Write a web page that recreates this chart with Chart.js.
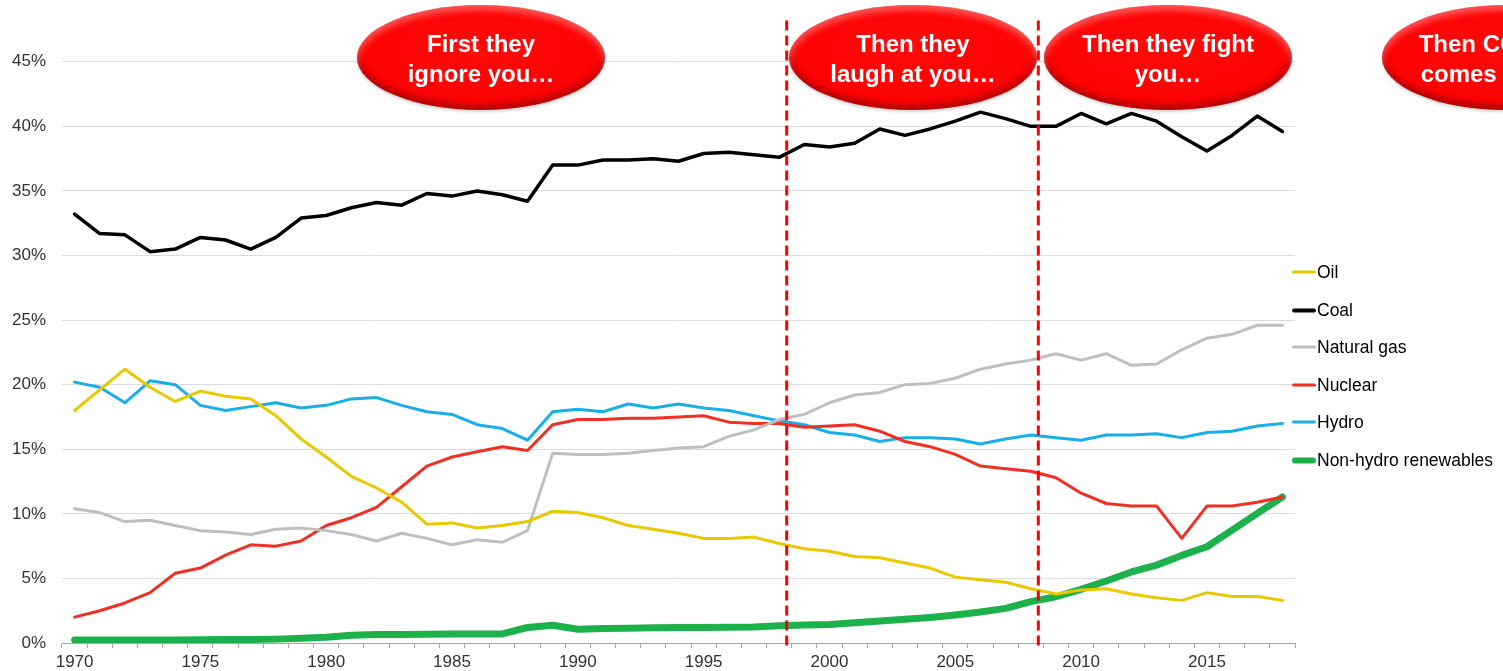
<!DOCTYPE html>
<html>
<head>
<meta charset="utf-8">
<script src="https://cdn.jsdelivr.net/npm/chart.js@4.4.1/dist/chart.umd.min.js"></script>
<style>
  html, body { margin: 0; padding: 0; background: #fff; overflow: hidden; }
  body { width: 1503px; height: 671px; position: relative; font-family: "Liberation Sans", Arial, sans-serif; }
  #wrap { position: absolute; left: 0; top: -29px; width: 1503px; height: 712px; }
  .bubble {
    position: absolute; top: 5px; width: 248px; height: 105px; border-radius: 50%;
    background: radial-gradient(ellipse 100% 100% at 50% 42%, #ff0a0a 0%, #ff0000 62%, #e80000 80%, #a80000 100%);
    box-shadow: inset 0 5px 7px rgba(255,255,255,0.35), inset 0 -5px 7px rgba(110,0,0,0.55), 0 2px 3px rgba(0,0,0,0.18);
    color: #fff; font-weight: bold; font-size: 24px; line-height: 30px; text-align: center;
    display: flex; align-items: center; justify-content: center; padding-top: 2px; box-sizing: border-box;
    white-space: nowrap;
  }
  #legend { position: absolute; left: 1292px; top: 0; font-size: 17.5px; color: #000; }
  .item { position: absolute; left: 0; display: flex; align-items: center; white-space: nowrap; transform: translateY(-50%); }
  .swatch { width: 24px; margin-right: 1px; border-radius: 3px; }
</style>
</head>
<body>
<div id="wrap"><canvas id="chart"></canvas></div>
<div id="legend"></div>

<script>
// years on the x axis
const years = [];
for (let y = 1970; y <= 2018; y++) years.push(y);

// share of world electricity generation, %
const oil = [18.0, 19.6, 21.2, 19.8, 18.7, 19.5, 19.1, 18.9, 17.6, 15.8,
  14.4, 12.9, 12.0, 10.9, 9.2, 9.3, 8.9, 9.1, 9.4, 10.2,
  10.1, 9.7, 9.1, 8.8, 8.5, 8.1, 8.1, 8.2, 7.7, 7.3,
  7.1, 6.7, 6.6, 6.2, 5.8, 5.1, 4.9, 4.7, 4.2, 3.8,
  4.1, 4.2, 3.8, 3.5, 3.3, 3.9, 3.6, 3.6, 3.3];
const coal = [33.2, 31.7, 31.6, 30.3, 30.5, 31.4, 31.2, 30.5, 31.4, 32.9,
  33.1, 33.7, 34.1, 33.9, 34.8, 34.6, 35.0, 34.7, 34.2, 37.0,
  37.0, 37.4, 37.4, 37.5, 37.3, 37.9, 38.0, 37.8, 37.6, 38.6,
  38.4, 38.7, 39.8, 39.3, 39.8, 40.4, 41.1, 40.6, 40.0, 40.0,
  41.0, 40.2, 41.0, 40.4, 39.2, 38.1, 39.3, 40.8, 39.6];
const naturalGas = [10.4, 10.1, 9.4, 9.5, 9.1, 8.7, 8.6, 8.4, 8.8, 8.9,
  8.7, 8.4, 7.9, 8.5, 8.1, 7.6, 8.0, 7.8, 8.7, 14.7,
  14.6, 14.6, 14.7, 14.9, 15.1, 15.2, 16.0, 16.5, 17.3, 17.7,
  18.6, 19.2, 19.4, 20.0, 20.1, 20.5, 21.2, 21.6, 21.9, 22.4,
  21.9, 22.4, 21.5, 21.6, 22.7, 23.6, 23.9, 24.6, 24.6];
const nuclear = [2.0, 2.5, 3.1, 3.9, 5.4, 5.8, 6.8, 7.6, 7.5, 7.9,
  9.1, 9.7, 10.5, 12.1, 13.7, 14.4, 14.8, 15.2, 14.9, 16.9,
  17.3, 17.3, 17.4, 17.4, 17.5, 17.6, 17.1, 17.0, 17.0, 16.7,
  16.8, 16.9, 16.4, 15.6, 15.2, 14.6, 13.7, 13.5, 13.3, 12.8,
  11.6, 10.8, 10.6, 10.6, 8.1, 10.6, 10.6, 10.9, 11.3];
const hydro = [20.2, 19.8, 18.6, 20.3, 20.0, 18.4, 18.0, 18.3, 18.6, 18.2,
  18.4, 18.9, 19.0, 18.4, 17.9, 17.7, 16.9, 16.6, 15.7, 17.9,
  18.1, 17.9, 18.5, 18.2, 18.5, 18.2, 18.0, 17.6, 17.2, 16.9,
  16.3, 16.1, 15.6, 15.9, 15.9, 15.8, 15.4, 15.8, 16.1, 15.9,
  15.7, 16.1, 16.1, 16.2, 15.9, 16.3, 16.4, 16.8, 17.0];
const nonHydro = [0.23, 0.23, 0.23, 0.23, 0.23, 0.25, 0.27, 0.27, 0.3, 0.36,
  0.44, 0.6, 0.65, 0.66, 0.68, 0.69, 0.7, 0.7, 1.2, 1.38,
  1.06, 1.12, 1.15, 1.18, 1.2, 1.2, 1.21, 1.24, 1.33, 1.39,
  1.44, 1.56, 1.7, 1.83, 1.98, 2.17, 2.4, 2.68, 3.2, 3.58,
  4.15, 4.8, 5.5, 6.03, 6.78, 7.45, 8.74, 10.03, 11.3];

const yTicks = [0, 5, 10, 15, 20, 25, 30, 35, 40, 45];
const markerYears = [1998.3, 2008.3];
const bubbleTexts = [
  ['First they', 'ignore you…'],
  ['Then they', 'laugh at you…'],
  ['Then they fight', 'you…'],
  ['Then COVID-19', 'comes along…']
];

const series = [
  { label: 'Oil', data: oil, color: '#e8c900', width: 3 },
  { label: 'Coal', data: coal, color: '#000000', width: 3.5 },
  { label: 'Natural gas', data: naturalGas, color: '#bfbfbf', width: 3 },
  { label: 'Nuclear', data: nuclear, color: '#ee3124', width: 3 },
  { label: 'Hydro', data: hydro, color: '#1aaee8', width: 3 },
  { label: 'Non-hydro renewables', data: nonHydro, color: '#1db14b', width: 7 }
];

// red dashed phase separators
const markers = {
  id: 'markers',
  afterDatasetsDraw(chart) {
    const { ctx, scales: { x, y }, chartArea } = chart;
    ctx.save();
    ctx.strokeStyle = '#ff0000';
    ctx.lineWidth = 3;
    ctx.setLineDash([10, 5]);
    markerYears.forEach(yr => {
      const px = x.getPixelForValue(yr - years[0]);
      ctx.beginPath();
      ctx.moveTo(px, y.getPixelForValue(48.2));
      ctx.lineTo(px, chartArea.bottom + 3);
      ctx.stroke();
    });
    ctx.restore();
  }
};

new Chart(document.getElementById('chart'), {
  type: 'line',
  data: {
    labels: years,
    datasets: series.map(s => ({
      label: s.label,
      data: s.data,
      borderColor: s.color,
      backgroundColor: s.color,
      borderWidth: s.width,
      pointRadius: 0,
      tension: 0,
      borderJoinStyle: 'round',
      borderCapStyle: 'round'
    }))
  },
  options: {
    responsive: true,
    maintainAspectRatio: false,
    animation: false,
    layout: { padding: { top: 6, right: 208, left: 0, bottom: 0 } },
    plugins: { legend: { display: false }, tooltip: { enabled: false } },
    scales: {
      x: {
        offset: true,
        grid: { offset: true, drawOnChartArea: false, drawTicks: true, tickLength: 5, color: '#a6a6a6' },
        border: { display: true, color: '#a6a6a6', width: 1 },
        ticks: {
          autoSkip: false, maxRotation: 0, padding: 4,
          color: '#333', font: { family: '"Liberation Sans", Arial', size: 17 },
          callback: (v, i) => years[i] % 5 === 0 ? String(years[i]) : ''
        },
        afterFit: s => { s.height = 40; }
      },
      y: {
        min: 0, max: 50,
        afterBuildTicks: s => { s.ticks = yTicks.concat([50]).map(v => ({ value: v })); },
        grid: {
          drawTicks: false,
          color: c => c.tick.value === 50 || c.tick.value === 0 ? 'rgba(0,0,0,0)' : '#dcdcdc',
          lineWidth: 1
        },
        border: { display: false },
        ticks: {
          padding: 16, color: '#333', font: { family: '"Liberation Sans", Arial', size: 17 },
          callback: v => v === 50 ? '' : v + '%'
        },
        afterFit: s => { s.width = 62; }
      }
    }
  },
  plugins: [markers]
});

// legend
const legend = document.getElementById('legend');
const legendRows = [272, 310, 347, 385, 422, 460];
series.forEach((s, i) => {
  const item = document.createElement('div');
  item.className = 'item';
  item.style.top = legendRows[i] + 'px';
  const sw = document.createElement('span');
  sw.className = 'swatch';
  sw.style.height = (s.width >= 6 ? 6 : Math.round(s.width)) + 'px';
  sw.style.background = s.color;
  item.appendChild(sw);
  item.appendChild(document.createTextNode(s.label));
  legend.appendChild(item);
});

// callout ellipses
const bubbleCenters = [481, 913, 1168, 1506];
bubbleTexts.forEach((lines, i) => {
  const b = document.createElement('div');
  b.className = 'bubble';
  b.style.left = (bubbleCenters[i] - 124) + 'px';
  b.innerHTML = lines.join('<br>');
  document.body.appendChild(b);
});
</script>
</body>
</html>
